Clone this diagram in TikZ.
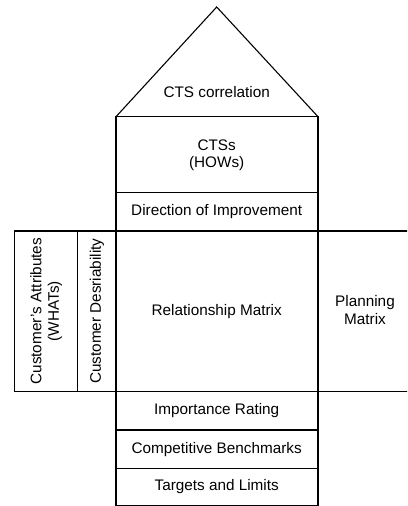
\documentclass[tikz,border=0pt]{standalone}
\usepackage{fontspec}
\setmainfont{Liberation Sans}
\begin{document}
\begin{tikzpicture}[x=1pt, y=1pt, line width=1.1pt,
  lbl/.style={inner sep=0.75pt, align=center, font=\fontsize{15.3}{17.5}\selectfont},
  sidelbl/.style={lbl, rotate=90}]
\useasboundingbox (0, 0) rectangle (407, 506);
\clip (0, 0) rectangle (407, 506);
%Roof
\draw (116, 389.3) -- (216.7, 499) -- (318, 389.3);
%Main column
\draw (116, 389.3) rectangle (318, 0.6);
\draw (116, 389.3) -- (318, 389.3);
\draw (116, 313.3) -- (318, 313.3);
\draw (116, 275) -- (318, 275);
\draw (116, 114.3) -- (318, 114.3);
\draw (116, 76) -- (318, 76);
\draw (116, 37.7) -- (318, 37.7);
%Left wing
\draw (14.7, 275) rectangle (116, 114.3);
\draw (77.7, 275) -- (77.7, 114.3);
%Right wing
\draw (318, 275) -- (420, 275);
\draw (318, 114.3) -- (420, 114.3);
%Text
\node (corr) at (216.7, 414.3) [lbl] {CTS correlation};
\node (hows) at (216.7, 351) [lbl] {CTSs\\(HOWs)};
\node (dir) at (216.7, 294) [lbl] {Direction of Improvement};
\node (rel) at (216.7, 194.5) [lbl] {Relationship Matrix};
\node (plan) at (365, 196) [lbl] {Planning\\Matrix};
\node (whats) at (46.2, 194.8) [sidelbl] {Customer’s Attributes\\(WHATs)};
\node (desire) at (97, 194.8) [sidelbl] {Customer Desriability};
\node (imp) at (216.7, 95.2) [lbl] {Importance Rating};
\node (bench) at (216.7, 56.8) [lbl] {Competitive Benchmarks};
\node (target) at (216.7, 19) [lbl] {Targets and Limits};
\end{tikzpicture}
\end{document}
